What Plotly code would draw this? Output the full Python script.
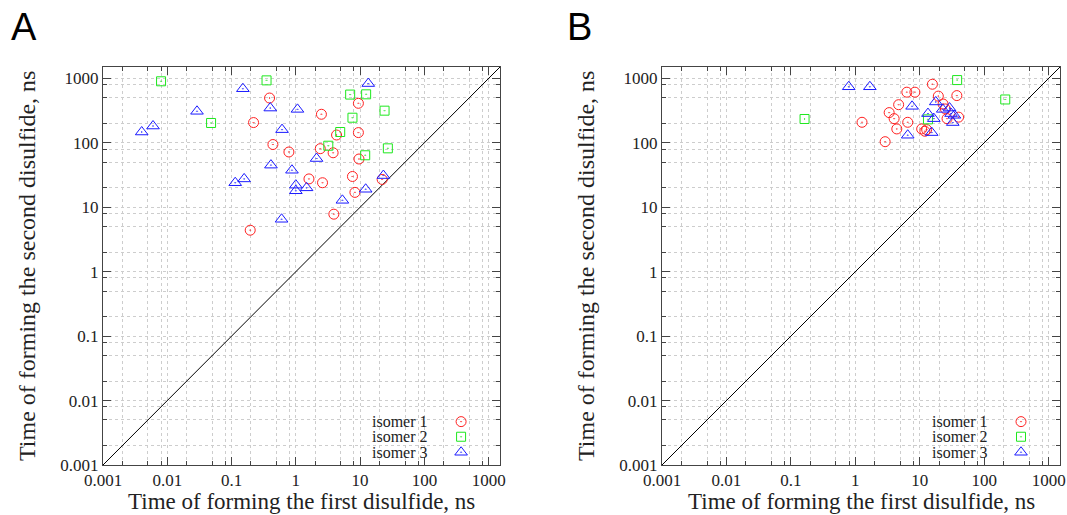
import plotly.graph_objects as go

# ---- Panel A: times (ns) of forming the first and second disulfide ----
a_iso1_first = [0.39, 0.22, 2.5, 9.4, 0.44, 0.78, 2.4, 3.8, 4.3, 9.4, 9.6, 1.6, 2.6, 7.6, 8.3, 22, 3.9, 0.195]
a_iso1_second = [495, 206, 277, 410, 94, 72, 81, 70, 132, 144, 56, 27.5, 24, 30, 17, 27, 7.8, 4.4]

a_iso2_first = [0.35, 7.0, 12.4, 24, 7.6, 4.9, 3.2, 27, 12, 0.008, 0.048]
a_iso2_second = [930, 560, 565, 315, 245, 147, 90, 82, 64, 900, 203]

a_iso3_first = [13.4, 0.15, 0.40, 1.06, 0.61, 0.41, 0.87, 2.1, 0.157, 1.0, 1.0, 1.47, 12.2, 5.3, 23, 0.6,
                0.029, 0.004, 0.006, 0.114]
a_iso3_second = [830, 690, 346, 330, 160, 45, 37.5, 57, 27.5, 22, 18, 20, 19, 12.8, 31, 6.5,
                 308, 147, 182, 24]

# ---- Panel B ----
b_iso1_first = [15.7, 6.3, 8.4, 19.4, 37.6, 4.7, 23, 25, 26.5, 3.35, 4.0, 1.27, 6.5, 4.4, 10.7, 12, 12.8, 40, 2.9]
b_iso1_second = [810, 610, 610, 530, 540, 390, 400, 335, 237, 294, 237, 208, 208, 164, 164, 151, 160, 250, 104]

b_iso2_first = [38, 0.163, 13.4, 212]
b_iso2_second = [940, 234, 231, 470]

b_iso3_first = [0.79, 1.68, 7.6, 17.7, 13.4, 16.5, 22.7, 29, 30.6, 34.5, 32.5, 6.5, 15.3]
b_iso3_second = [740, 740, 368, 430, 284, 237, 330, 346, 284, 267, 206, 131, 144]

# y = x reference line
diag = [0.001, 1500]

axis_range_log = [-3, 3.176]
tick_vals = [0.001, 0.01, 0.1, 1, 10, 100, 1000]
tick_text = ["0.001", "0.01", "0.1", "1", "10", "100", "1000"]
minor_vals = [m * 10 ** e for e in range(-3, 4) for m in (2, 5, 8)]

series_names = ["isomer 1", "isomer 2", "isomer 3"]
colors = ["#ff2020", "#1ee81e", "#1a1aff"]
symbols = ["circle-open-dot", "square-open-dot", "triangle-up-open-dot"]
sizes = [10, 9, 11]

SERIF = "Liberation Serif"
TEXT = "#222"
GRID = "#cdcdcd"

fig = go.Figure()

panels = [
    ("x", "y", [(a_iso1_first, a_iso1_second), (a_iso2_first, a_iso2_second), (a_iso3_first, a_iso3_second)]),
    ("x2", "y2", [(b_iso1_first, b_iso1_second), (b_iso2_first, b_iso2_second), (b_iso3_first, b_iso3_second)]),
]

for xa, ya, data in panels:
    fig.add_trace(go.Scatter(x=diag, y=diag, mode="lines", line=dict(color="black", width=1),
                             xaxis=xa, yaxis=ya, showlegend=False, hoverinfo="skip"))
    for i, (xs, ys) in enumerate(data):
        fig.add_trace(go.Scatter(
            x=xs, y=ys, mode="markers", name=series_names[i], showlegend=False,
            marker=dict(symbol=symbols[i], size=sizes[i], color=colors[i],
                        line=dict(color=colors[i], width=1)),
            xaxis=xa, yaxis=ya))

# legend keys (symbols drawn to the right of the labels) on overlay axes
key_x = [0.902] * 3
key_y = [0.109, 0.071, 0.032]
for xa, ya in (("x3", "y3"), ("x4", "y4")):
    for i in range(3):
        fig.add_trace(go.Scatter(
            x=[key_x[i]], y=[key_y[i]], mode="markers", showlegend=False, hoverinfo="skip",
            marker=dict(symbol=symbols[i], size=sizes[i], color=colors[i],
                        line=dict(color=colors[i], width=1)),
            xaxis=xa, yaxis=ya))

dom_a = [103 / 1067, 500 / 1067]
dom_b = [662 / 1067, 1060 / 1067]
dom_y = [1 - 465 / 515, 1 - 67 / 515]


def log_axis(domain, anchor):
    return dict(
        type="log", range=axis_range_log, domain=domain, anchor=anchor, automargin=False,
        tickmode="array", tickvals=tick_vals, ticktext=tick_text,
        ticks="inside", ticklen=8, tickwidth=1, tickcolor="#444",
        showline=True, linecolor="#444", linewidth=1, mirror="ticks",
        showgrid=True, gridcolor=GRID, griddash="dot", gridwidth=1,
        tickfont=dict(family=SERIF, size=17, color=TEXT),
        minor=dict(tickmode="array", tickvals=minor_vals, ticks="inside", ticklen=4,
                   tickcolor="#444", showgrid=True, gridcolor=GRID, griddash="dot"),
        zeroline=False,
    )


hidden = dict(visible=False, range=[0, 1], showgrid=False, zeroline=False, automargin=False)

fig.update_layout(
    width=1067, height=515,
    margin=dict(l=0, r=0, t=0, b=0, autoexpand=False),
    paper_bgcolor="white", plot_bgcolor="rgba(0,0,0,0)",
    xaxis=log_axis(dom_a, "y"),
    yaxis=log_axis(dom_y, "x"),
    xaxis2=log_axis(dom_b, "y2"),
    yaxis2=log_axis(dom_y, "x2"),
    xaxis3=dict(hidden, domain=dom_a, anchor="y3"),
    yaxis3=dict(hidden, domain=dom_y, anchor="x3"),
    xaxis4=dict(hidden, domain=dom_b, anchor="y4"),
    yaxis4=dict(hidden, domain=dom_y, anchor="x4"),
    showlegend=False,
)

# axis titles
xt = "Time of forming the first disulfide, ns"
yt = "Time of forming the second disulfide, ns"
for dom, ycenter_px in ((dom_a, 27), (dom_b, 586)):
    fig.add_annotation(text=xt, x=(dom[0] + dom[1]) / 2, y=1 - 501 / 515, xref="paper", yref="paper",
                       xanchor="center", yanchor="middle", showarrow=False, borderpad=0,
                       font=dict(family=SERIF, size=23, color=TEXT))
    fig.add_annotation(text=yt, x=ycenter_px / 1067, y=(dom_y[0] + dom_y[1]) / 2, xref="paper", yref="paper",
                       xanchor="center", yanchor="middle", showarrow=False, textangle=-90, borderpad=0,
                       font=dict(family=SERIF, size=24, color=TEXT))

# panel letters
for letter, px in (("A", 24), ("B", 579)):
    fig.add_annotation(text=letter, x=px / 1067, y=1 - 27 / 515, xref="paper", yref="paper",
                       xanchor="center", yanchor="middle", showarrow=False,
                       font=dict(family="Liberation Sans", size=38, color="black"))

# legend labels
for xa, ya in (("x3", "y3"), ("x4", "y4")):
    for i in range(3):
        fig.add_annotation(text=series_names[i], x=0.822, y=key_y[i], xref=xa, yref=ya,
                           xanchor="right", yanchor="middle", showarrow=False, borderpad=0,
                           font=dict(family=SERIF, size=16, color=TEXT))

fig.write_html("out.html")
